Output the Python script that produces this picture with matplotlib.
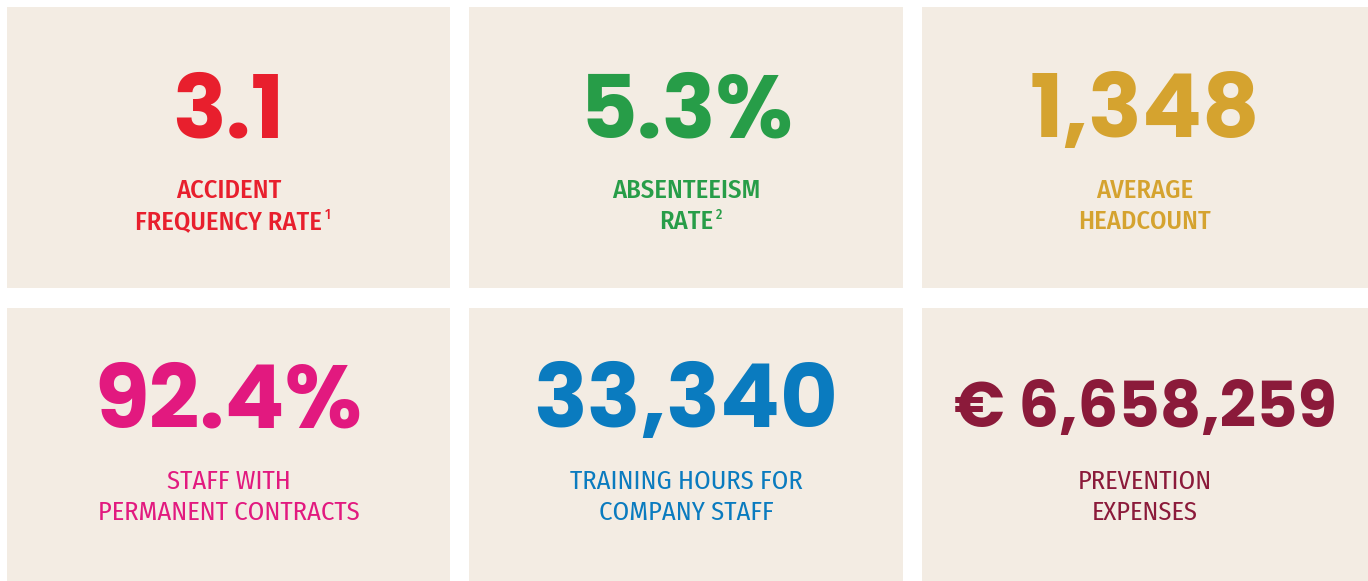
import matplotlib
matplotlib.use("Agg")
import matplotlib.pyplot as plt
import matplotlib.patches as patches

# KPI values and captions, row by row
values = ["3.1", "5.3%", "1,348", "92.4%", "33,340", "\u20ac 6,658,259"]
label_line1 = ["ACCIDENT", "ABSENTEEISM", "AVERAGE", "STAFF WITH", "TRAINING HOURS FOR", "PREVENTION"]
label_line2 = ["FREQUENCY RATE", "RATE", "HEADCOUNT", "PERMANENT CONTRACTS", "COMPANY STAFF", "EXPENSES"]
footnotes = ["1", "2", "", "", "", ""]
colors = ["#E81F2D", "#279D48", "#D5A32F", "#E2197F", "#0A7BBF", "#8B1A3A"]

BG = "#F3ECE3"
W, H = 1368, 581

# tile edges in pixels
col_edges = [(7, 450), (469, 903), (922, 1368)]
row_edges = [(7, 288), (308, 581)]
# baselines relative to tile top: number, label line 1, label line 2
row_offsets = [(130, 191, 222), (119, 181, 212)]
label_weight = [500, 400]

fig = plt.figure(figsize=(W / 100, H / 100), dpi=100)
ax = fig.add_axes([0, 0, 1, 1])
ax.set_xlim(0, W)
ax.set_ylim(H, 0)
ax.axis("off")

num_font = ["Poppins", "DejaVu Sans"]
lab_font = ["Fira Sans Condensed", "DejaVu Sans"]

for i, val in enumerate(values):
    r, c = divmod(i, 3)
    x0, x1 = col_edges[c]
    y0, y1 = row_edges[r]
    ob, o1, o2 = row_offsets[r]
    ax.add_patch(patches.Rectangle((x0, y0), x1 - x0, y1 - y0, facecolor=BG, edgecolor="none"))
    cx = (x0 + x1) / 2
    size = 46 if "\u20ac" in val else 64
    ax.text(cx, y0 + ob, val, color=colors[i], fontsize=size, fontweight=700,
            family=num_font, ha="center", va="baseline")
    ax.text(cx, y0 + o1, label_line1[i], color=colors[i], fontsize=19,
            fontweight=label_weight[r], family=lab_font, ha="center", va="baseline")
    t = ax.text(cx, y0 + o2, label_line2[i], color=colors[i], fontsize=19,
                fontweight=label_weight[r], family=lab_font, ha="center", va="baseline")
    if footnotes[i]:
        fig.canvas.draw()
        bb = t.get_window_extent()
        xr = ax.transData.inverted().transform((bb.x1, bb.y1))[0]
        ax.text(xr + 3, y0 + o2 - 10, footnotes[i], color=colors[i], fontsize=10,
                fontweight=label_weight[r], family=lab_font, ha="left", va="baseline")

fig.savefig("out.png", dpi=100, facecolor="white")
